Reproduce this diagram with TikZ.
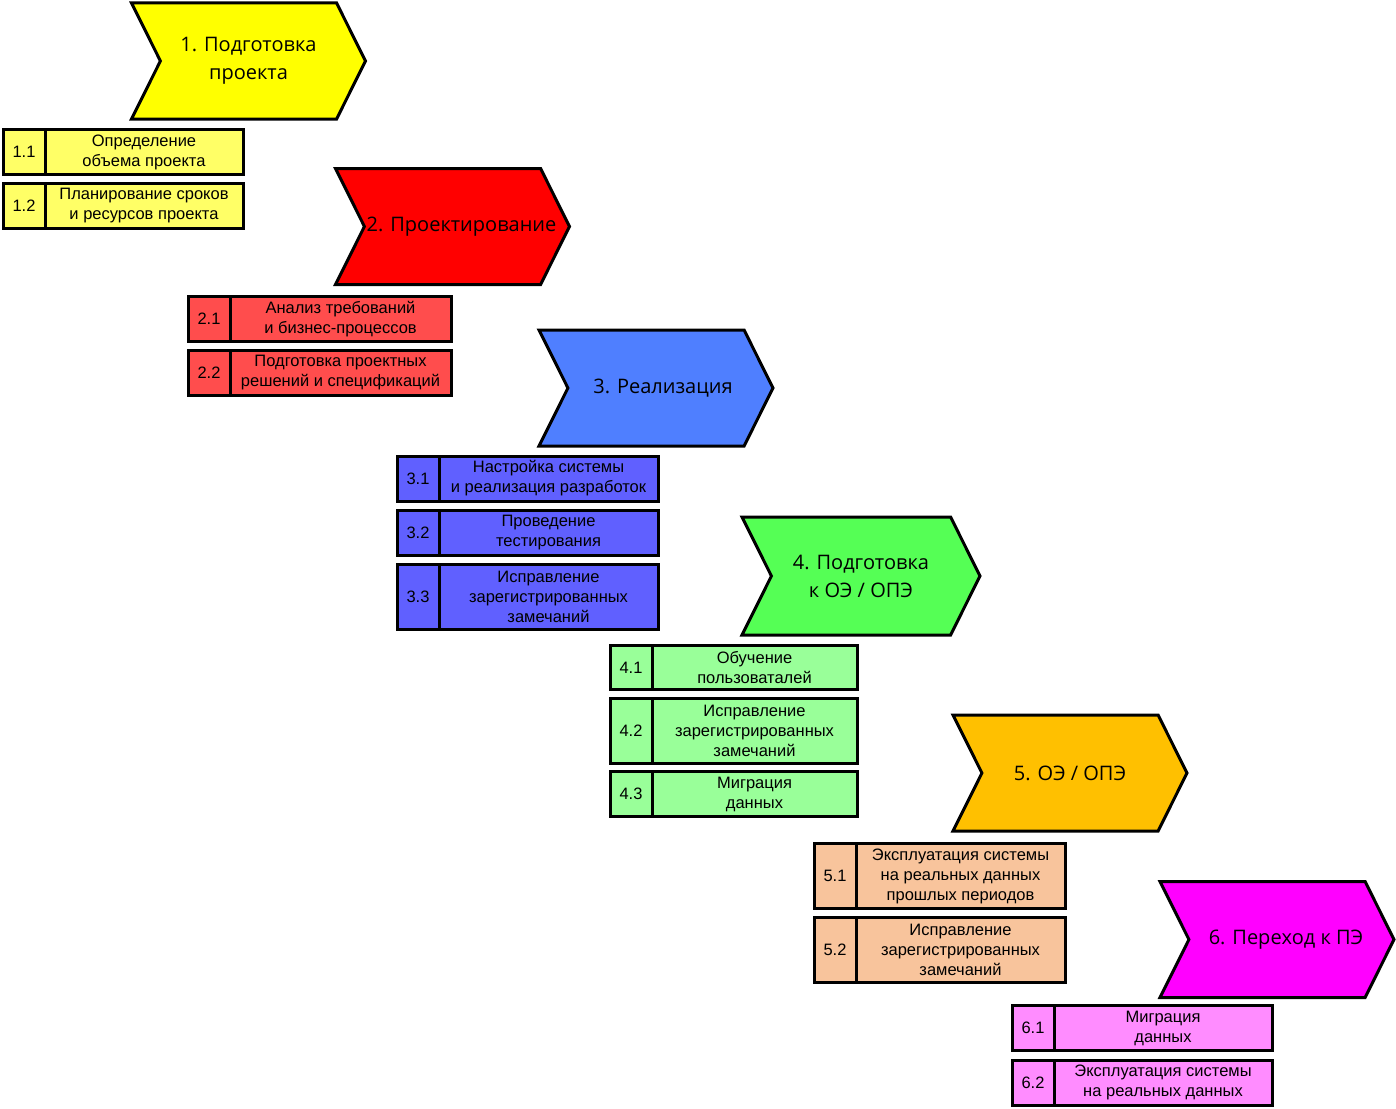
\documentclass[tikz,border=0pt]{standalone}
\usepackage{fontspec}
\usetikzlibrary{shapes.symbols}
\usetikzlibrary{positioning}
\newfontfamily\phasefont{Open Sans}
\newfontfamily\taskfont{Liberation Sans}
\definecolor{yph}{HTML}{FFFF00}
\definecolor{ybx}{HTML}{FFFF66}
\definecolor{rph}{HTML}{FF0000}
\definecolor{rbx}{HTML}{FF4D4D}
\definecolor{bph}{HTML}{4F7FFF}
\definecolor{bbx}{HTML}{6060FF}
\definecolor{gph}{HTML}{55FF55}
\definecolor{gbx}{HTML}{99FF99}
\definecolor{oph}{HTML}{FFC000}
\definecolor{obx}{HTML}{F8C49C}
\definecolor{mph}{HTML}{FF00FF}
\definecolor{mbx}{HTML}{FF8CFF}

\begin{document}
\begin{tikzpicture}[x=1pt, y=-1pt, node distance=8.5pt,
	phase/.style={signal, signal to=east, signal from=west, signal pointer angle=127,
		draw, line width=3pt, minimum width=234pt, minimum height=116pt,
		inner xsep=-18pt, inner ysep=0pt, outer sep=0pt, align=center,
		font=\phasefont\fontsize{20}{28}\selectfont},
	num/.style={draw, line width=3pt, minimum width=42pt, inner sep=0pt, outer sep=0pt,
		font=\taskfont\fontsize{16.5}{20}\selectfont},
	task/.style={num, align=center},
	h2/.style={minimum height=45pt},
	h3/.style={minimum height=65pt}]
	\useasboundingbox (0,0) rectangle (1396,1108);
	% phases
	\node [phase, fill=yph] (ph1) at (248.5,61) {1. Подготовка\\проекта};
	\node [phase, fill=rph] (ph2) at (452.5,226.5) {\hspace*{18pt}2. Проектирование};
	\node [phase, fill=bph] (ph3) at (656,388) {\hspace*{14pt}3. Реализация};
	\node [phase, fill=gph, minimum width=238pt, minimum height=118pt] (ph4) at (861,576) {4. Подготовка\\к ОЭ / ОПЭ};
	\node [phase, fill=oph] (ph5) at (1070,773) {5. ОЭ / ОПЭ};
	\node [phase, fill=mph] (ph6) at (1277,939.5) {\hspace*{18pt}6. Переход к ПЭ};
	% tasks 1
	\node [num, h2, fill=ybx, anchor=north west] (n11) at (3,129.5) {1.1};
	\node [task, h2, fill=ybx, minimum width=198pt, right=0pt of n11] (t11) {Определение\\объема проекта};
	\node [num, h2, fill=ybx, below=of n11] (n12) {1.2};
	\node [task, h2, fill=ybx, minimum width=198pt, right=0pt of n12] (t12) {Планирование сроков\\и ресурсов проекта};
	% tasks 2
	\node [num, h2, fill=rbx, anchor=north west] (n21) at (188,296.5) {2.1};
	\node [task, h2, fill=rbx, minimum width=221pt, right=0pt of n21] (t21) {Анализ требований\\и бизнес-процессов};
	\node [num, h2, fill=rbx, below=of n21] (n22) {2.2};
	\node [task, h2, fill=rbx, minimum width=221pt, right=0pt of n22] (t22) {Подготовка проектных\\решений и спецификаций};
	% tasks 3
	\node [num, h2, fill=bbx, anchor=north west] (n31) at (397,456) {3.1};
	\node [task, h2, fill=bbx, minimum width=219pt, right=0pt of n31] (t31) {Настройка системы\\и реализация разработок};
	\node [num, h2, fill=bbx, below=9pt of n31] (n32) {3.2};
	\node [task, h2, fill=bbx, minimum width=219pt, right=0pt of n32] (t32) {Проведение\\тестирования};
	\node [num, h3, fill=bbx, below=9pt of n32] (n33) {3.3};
	\node [task, h3, fill=bbx, minimum width=219pt, right=0pt of n33] (t33) {Исправление\\зарегистрированных\\замечаний};
	% tasks 4
	\node [num, minimum height=44pt, fill=gbx, anchor=north west] (n41) at (610,645.5) {4.1};
	\node [task, minimum height=44pt, fill=gbx, minimum width=205pt, right=0pt of n41] (t41) {Обучение\\пользоваталей};
	\node [num, h3, fill=gbx, below=of n41] (n42) {4.2};
	\node [task, h3, fill=gbx, minimum width=205pt, right=0pt of n42] (t42) {Исправление\\зарегистрированных\\замечаний};
	\node [num, h2, fill=gbx, below=of n42] (n43) {4.3};
	\node [task, h2, fill=gbx, minimum width=205pt, right=0pt of n43] (t43) {Миграция\\данных};
	% tasks 5
	\node [num, h3, fill=obx, anchor=north west] (n51) at (814,843.5) {5.1};
	\node [task, h3, fill=obx, minimum width=209pt, right=0pt of n51] (t51) {Эксплуатация системы\\на реальных данных\\прошлых периодов};
	\node [num, h3, fill=obx, below=9pt of n51] (n52) {5.2};
	\node [task, h3, fill=obx, minimum width=209pt, right=0pt of n52] (t52) {Исправление\\зарегистрированных\\замечаний};
	% tasks 6
	\node [num, h2, fill=mbx, anchor=north west] (n61) at (1012,1005.5) {6.1};
	\node [task, h2, fill=mbx, minimum width=218pt, right=0pt of n61] (t61) {Миграция\\данных};
	\node [num, h2, fill=mbx, below=9.5pt of n61] (n62) {6.2};
	\node [task, h2, fill=mbx, minimum width=218pt, right=0pt of n62] (t62) {Эксплуатация системы\\на реальных данных};
\end{tikzpicture}
\end{document}
